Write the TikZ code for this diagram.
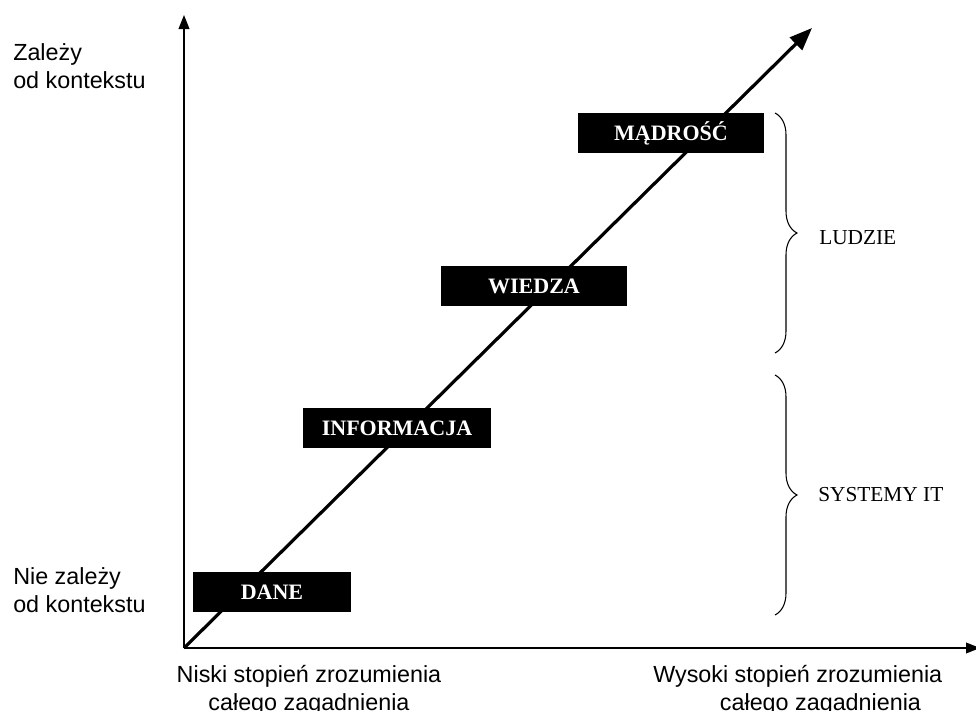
\documentclass[tikz,border=0pt]{standalone}
\usepackage{fontspec}
\setmainfont{Liberation Serif}
\setsansfont{Liberation Sans}
\usetikzlibrary{arrows.meta,decorations.pathreplacing}

\tikzset{
  etap/.style={fill=black, text=white, font=\bfseries\fontsize{16.5}{19}\selectfont,
    minimum height=30pt, inner sep=0pt},
  opis/.style={font=\sffamily\fontsize{17.5}{21}\selectfont, inner sep=0pt},
  grupa/.style={font=\fontsize{16}{19}\selectfont, anchor=west, inner sep=0pt},
  klamra/.style={decorate, decoration={brace, amplitude=16.5pt}, line width=0.8pt},
}

\begin{document}
\begin{tikzpicture}[x=0.75pt, y=-0.75pt]
  \useasboundingbox (0,0) rectangle (976,711);

  % Axes
  \coordinate (o) at (184,648);
  \coordinate (ytop) at (184,15);
  \coordinate (xend) at (980,648);
  \coordinate (dtip) at (812,28);
  \draw[line width=1.2pt, -{Triangle[length=10.5pt, width=8pt]}] (o) -- (ytop);
  \draw[line width=1.2pt, -{Triangle[length=10.5pt, width=8pt]}] (o) -- (xend);
  \draw[line width=2.4pt, -{Triangle[length=17pt, width=13pt]}] (o) -- (dtip);

  % Stages along the diagonal
  \foreach \name/\x/\y/\w/\txt in {dane/272/592/118/DANE, info/397/428/141/INFORMACJA,
      wiedza/534/286/140/WIEDZA, madrosc/671/133/140/MĄDROŚĆ} {
    \node[etap, minimum width=\w pt] (\name) at (\x,\y) {\txt};
  }

  % Braces on the right
  \coordinate (l1) at (775,113);
  \coordinate (l2) at (775,353);
  \coordinate (s1) at (775,375);
  \coordinate (s2) at (775,615);
  \draw[klamra] (l1) -- (l2);
  \draw[klamra] (s1) -- (s2);
  \node[grupa] (ludzie) at (819,238) {LUDZIE};
  \node[grupa] (systemy) at (818,495) {SYSTEMY IT};

  % Axis labels
  \node[opis, align=left, anchor=north west] (zal) at (13,43) {Zależy\\od kontekstu};
  \node[opis, align=left, anchor=north west] (niezal) at (13,567) {Nie zależy\\od kontekstu};
  \node[opis, align=center, anchor=north] (niski) at (309,665)
    {Niski stopień zrozumienia\\całego zagadnienia};
  \node[opis, align=left, anchor=north west] (wysoki) at (653,665)
    {Wysoki stopień zrozumienia\\\hspace*{50pt}całego zagadnienia};
\end{tikzpicture}
\end{document}
